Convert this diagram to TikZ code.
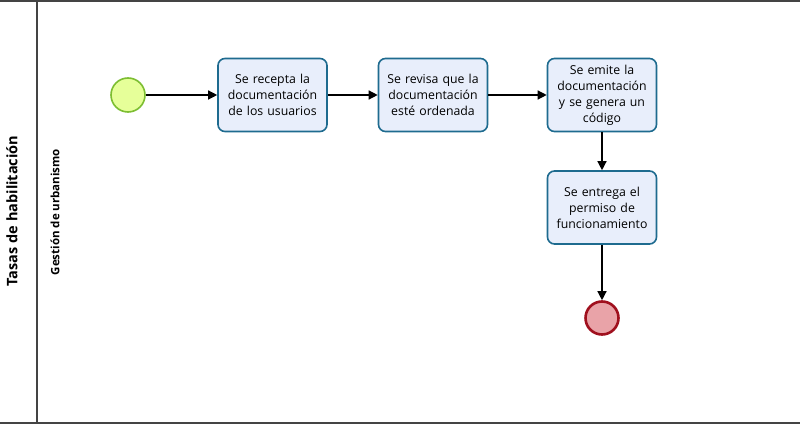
\documentclass[tikz,border=0pt]{standalone}
\usepackage{fontspec}
\setmainfont{Open Sans}
\usetikzlibrary{arrows.meta}
\definecolor{taskfill}{HTML}{E8EEFB}
\definecolor{taskdraw}{HTML}{1E6B8F}
\definecolor{startfill}{HTML}{E6FF99}
\definecolor{startdraw}{HTML}{7DBE32}
\definecolor{endfill}{HTML}{E9A3A8}
\definecolor{enddraw}{HTML}{A0101E}
\definecolor{lanecol}{HTML}{444444}
\tikzset{
  task/.style={draw=taskdraw, fill=taskfill, line width=1.6pt, rounded corners=7pt,
    minimum width=109pt, minimum height=73pt, text width=105pt, align=center,
    font=\fontsize{12.3}{16}\selectfont, inner sep=2pt},
  startev/.style={circle, draw=startdraw, fill=startfill, line width=1.6pt, minimum size=34pt, inner sep=0pt},
  endev/.style={circle, draw=enddraw, fill=endfill, line width=2.6pt, minimum size=33pt, inner sep=0pt},
  flow/.style={-{Triangle[length=9pt,width=9pt]}, line width=1.3pt, black},
  lane/.style={draw=lanecol, line width=1.6pt}
}
\begin{document}
\begin{tikzpicture}[x=1pt,y=-1pt]
\useasboundingbox (0,0) rectangle (800,427);
\fill[white] (0,0) rectangle (800,427);
% pool lines
\draw[lane] (0,1) -- (800,1);
\draw[lane] (0,423) -- (800,423);
\draw[lane] (37,0) -- (37,423);
% lane labels
\node[rotate=90, font=\bfseries\fontsize{14.5}{16}\selectfont] (pool) at (12,211) {Tasas de habilitación};
\node[rotate=90, font=\bfseries\fontsize{11.5}{13}\selectfont] (lane1) at (55,212) {Gestión de urbanismo};
% events and tasks
\node[startev] (s) at (128,95) {};
\node[task] (t1) at (272.5,95) {Se recepta la\\documentación\\de los usuarios};
\node[task] (t2) at (433,95) {Se revisa que la\\documentación\\esté ordenada};
\node[task] (t3) at (602,95) {Se emite la\\documentación\\y se genera un\\código};
\node[task] (t4) at (602,207.5) {Se entrega el\\permiso de\\funcionamiento};
\node[endev] (e) at (602,318) {};
% flows
\draw[flow] (s) -- (t1);
\draw[flow] (t1) -- (t2);
\draw[flow] (t2) -- (t3);
\draw[flow] (t3) -- (t4);
\draw[flow] (t4) -- (e);
\end{tikzpicture}
\end{document}
